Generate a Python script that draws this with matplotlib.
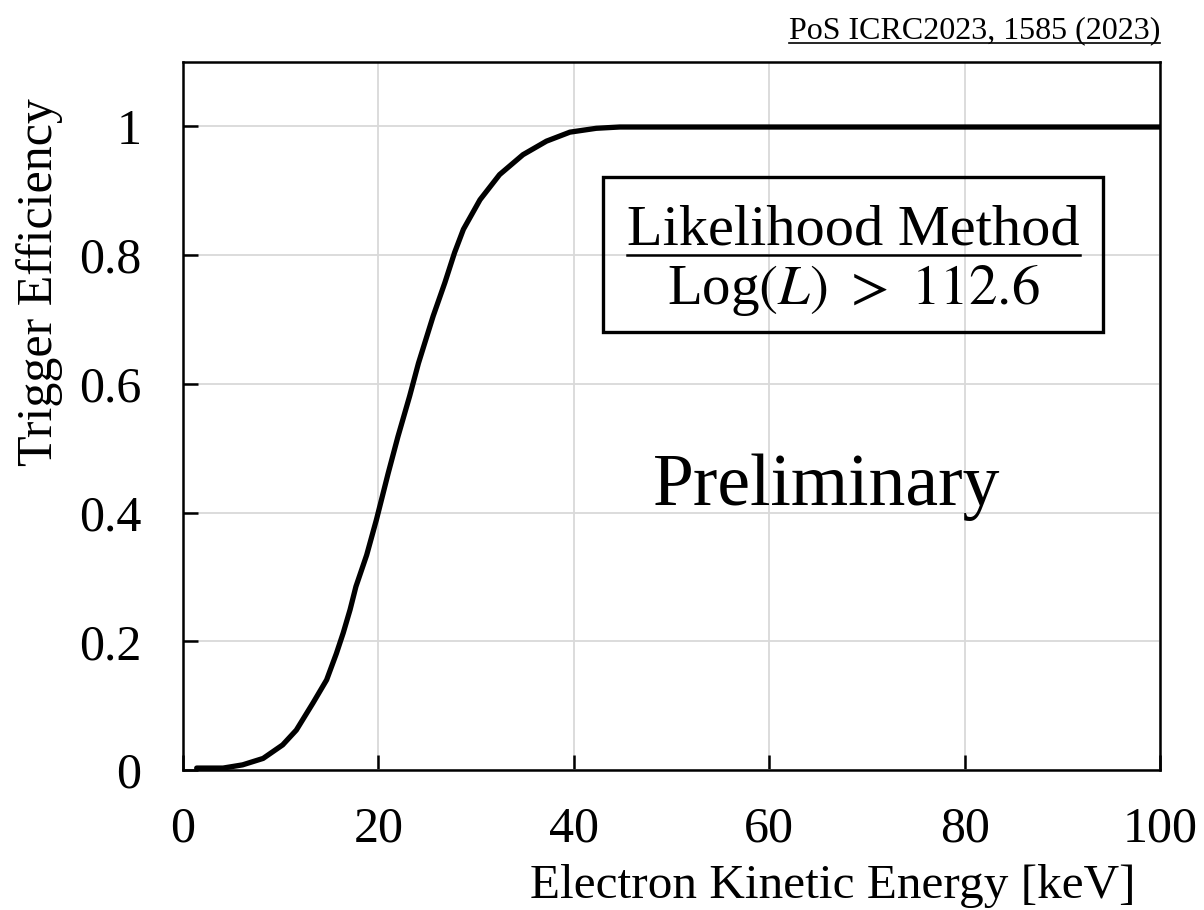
import matplotlib
matplotlib.use("Agg")
import matplotlib.pyplot as plt
from matplotlib.patches import Rectangle
from matplotlib.lines import Line2D

# 曲线数据
energy_kev = [1.4, 4.1, 6.1, 8.2, 10.2, 11.6, 13.3, 14.7, 15.7, 16.4, 17.1,
              17.7, 18.8, 19.8, 21.0, 22.0, 23.2, 24.1, 25.6, 26.8, 27.8,
              28.7, 30.4, 32.4, 34.8, 37.2, 39.6, 42.3, 44.7, 50.0, 60.0,
              70.0, 80.0, 90.0, 100.0]
efficiency = [0.003, 0.003, 0.008, 0.018, 0.039, 0.062, 0.104, 0.140, 0.181,
              0.213, 0.249, 0.285, 0.334, 0.389, 0.461, 0.518, 0.581, 0.632,
              0.705, 0.757, 0.804, 0.840, 0.886, 0.925, 0.956, 0.977, 0.991,
              0.997, 0.999, 0.999, 0.999, 0.999, 0.999, 0.999, 0.999]

x_ticks = [0, 20, 40, 60, 80, 100]
y_ticks = [0, 0.2, 0.4, 0.6, 0.8, 1.0]
y_tick_labels = ["0", "0.2", "0.4", "0.6", "0.8", "1"]

plt.rcParams["font.family"] = ["Liberation Serif", "DejaVu Serif"]
plt.rcParams["mathtext.fontset"] = "stix"

fig = plt.figure(figsize=(12.04, 9.10), dpi=100)
ax = fig.add_axes([183 / 1204, 140 / 910, 977 / 1204, 708 / 910])

ax.plot(energy_kev, efficiency, color="black", lw=3.8,
        solid_capstyle="round", solid_joinstyle="round", zorder=3)

ax.set_xlim(0, 100)
ax.set_ylim(0, 1.1)
ax.set_xticks(x_ticks)
ax.set_yticks(y_ticks)
ax.set_yticklabels(y_tick_labels)
ax.grid(True, color="#d9d9d9", lw=1.3)
ax.set_axisbelow(True)
for s in ax.spines.values():
    s.set_linewidth(1.8)
ax.tick_params(direction="in", length=11, width=1.8, labelsize=36)
ax.tick_params(axis="y", pad=30)
ax.tick_params(axis="x", pad=26)

# 坐标轴标签
fig.text(40 / 1204, 1 - 282 / 910, "Trigger Efficiency", rotation=90,
         ha="center", va="center", fontsize=36)
fig.text(1136 / 1204, 1 - 886 / 910, "Electron Kinetic Energy [keV]",
         ha="right", va="center", fontsize=35.5)

# 右上角出处
src = fig.text(1160 / 1204, 1 - 38 / 910, "PoS ICRC2023, 1585 (2023)",
               ha="right", va="baseline", fontsize=23)

# 方框
ax.add_patch(Rectangle((43.0, 0.680), 51.2, 0.241, fill=False,
                       ec="black", lw=2.4, zorder=4))
title = ax.text(68.6, 0.838, "Likelihood Method", ha="center", va="center",
                fontsize=42, zorder=5)
ax.text(68.6, 0.745, r"Log$(L)\ >\ 112.6$", ha="center", va="center",
        fontsize=41, zorder=5)

ax.text(65.9, 0.44, "Preliminary", ha="center", va="center", fontsize=53)

# 下划线
fig.canvas.draw()
renderer = fig.canvas.get_renderer()
inv = fig.transFigure.inverted()
for t, lw in [(title, 1.8), (src, 1.2)]:
    bb = t.get_window_extent(renderer)
    (x0, y0), (x1, y1) = inv.transform([(bb.x0, bb.y0 + 2), (bb.x1, bb.y0 + 2)])
    fig.add_artist(Line2D([x0, x1], [y0, y1], color="black", lw=lw))

fig.savefig("out.png", dpi=100)
